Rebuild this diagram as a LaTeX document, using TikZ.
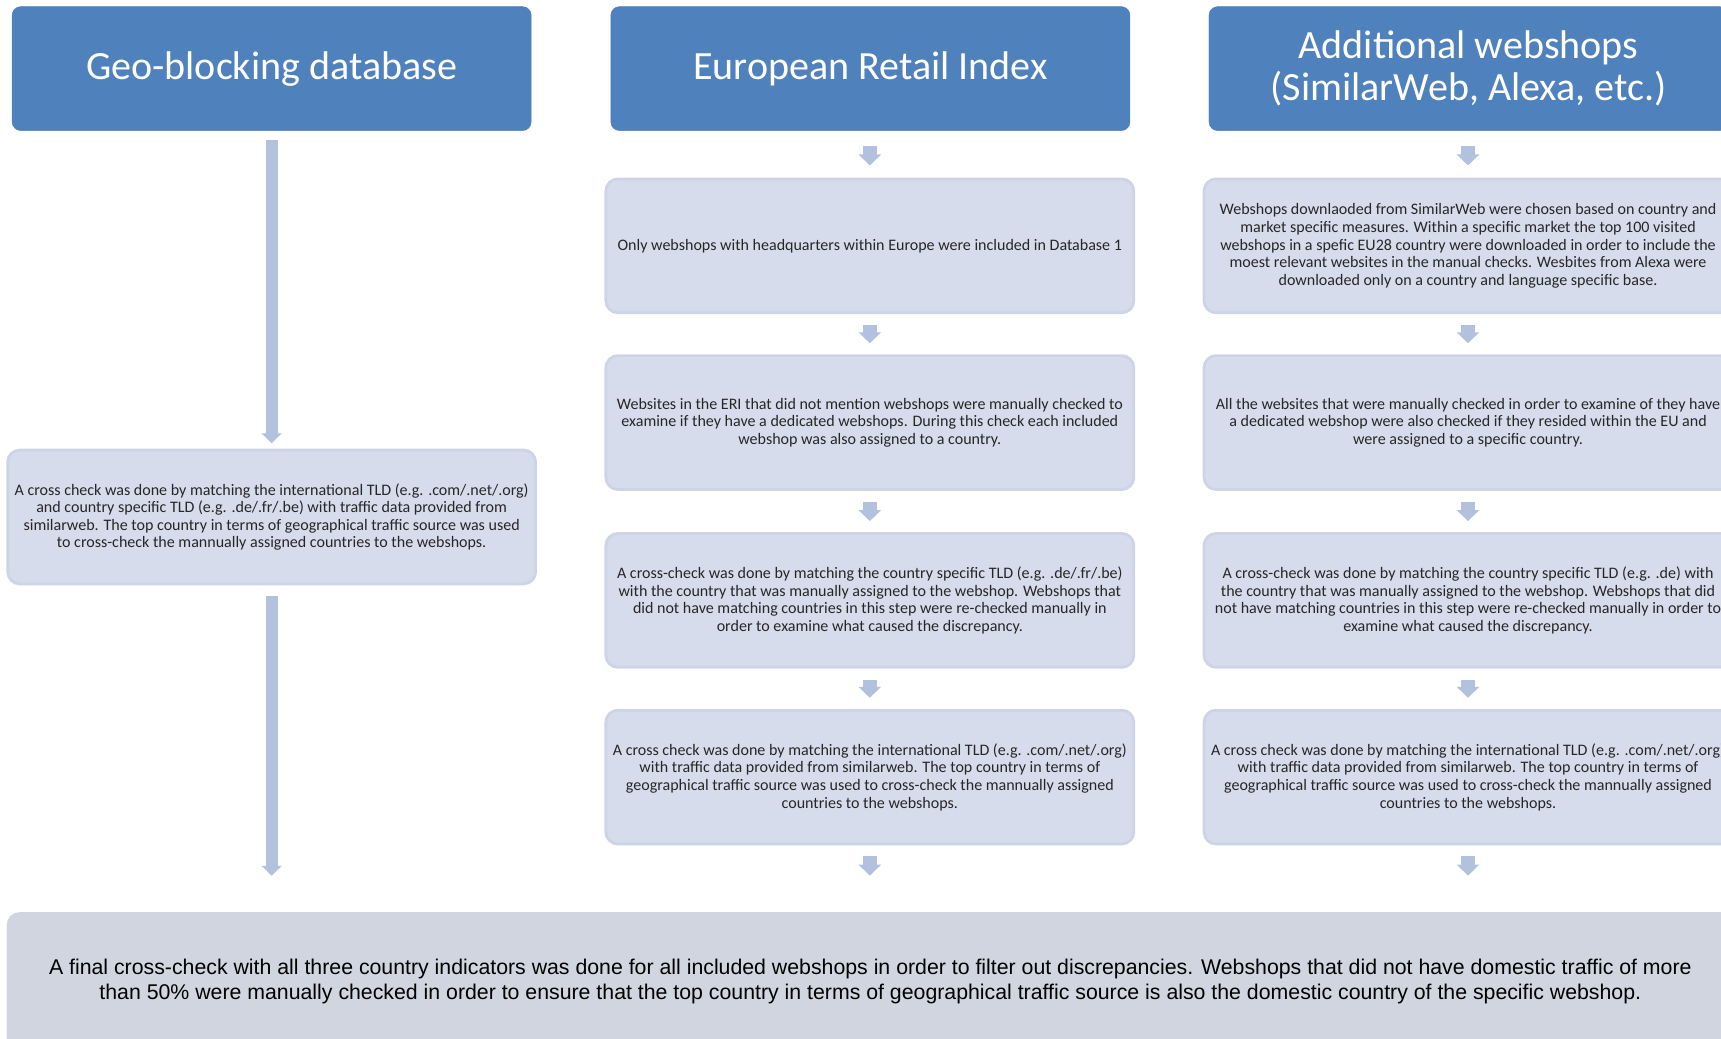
\documentclass[tikz,border=0pt]{standalone}
\usepackage{fontspec}
\setmainfont{Carlito}
\newfontfamily\arialf{Liberation Sans}
\usetikzlibrary{arrows.meta}
\definecolor{headblue}{HTML}{4F81BD}
\definecolor{stepfill}{HTML}{D6DCEB}
\definecolor{stepline}{HTML}{CCD4E6}
\definecolor{arrowc}{HTML}{B2C1DE}
\definecolor{finalfill}{HTML}{D1D5E0}
\begin{document}
\begin{tikzpicture}[x=1pt,y=-1pt,
  header/.style={rectangle, rounded corners=8pt, fill=headblue, draw=headblue,
    minimum width=473pt, minimum height=113pt, inner sep=0pt, align=center,
    text=white, font=\fontsize{36.5}{38}\selectfont},
  stepbox/.style={rectangle, rounded corners=11pt, fill=stepfill, draw=stepline,
    line width=2.5pt, minimum width=481pt, minimum height=122pt, inner sep=0pt,
    align=center, text=black!85, font=\fontsize{14.6}{16}\selectfont},
  finalbox/.style={rectangle, rounded corners=12pt, fill=finalfill, draw=none,
    minimum width=1574pt, minimum height=127pt, inner sep=0pt, align=center,
    text=black, font=\arialf\fontsize{19.4}{23}\selectfont},
  flow/.style={draw=arrowc, line width=13pt, -{Triangle[width=20pt,length=10pt]}},
  longflow/.style={draw=arrowc, line width=11pt, -{Triangle[width=18pt,length=9pt]}}]
\useasboundingbox (0,0) rectangle (1568,946);
\clip (0,0) rectangle (1568,946);

% column headers
\node[header] (h1) at (247.5,62.5) {Geo-blocking database};
\node[header] (h2) at (793,62.5) {European Retail Index};
\node[header] (h3) at (1338,62.5) {Additional webshops\\(SimilarWeb, Alexa, etc.)};

% geo-blocking database column
\node[stepbox] (g1) at (247.5,471) {A cross check was done by matching the international TLD (e.g. .com/.net/.org)\\
and country specific TLD (e.g. .de/.fr/.be) with traffic data provided from\\
similarweb. The top country in terms of geographical traffic source was used\\
to cross-check the mannually assigned countries to the webshops.};

% European Retail Index column
\node[stepbox] (e1) at (792.5,224) {Only webshops with headquarters within Europe were included in Database 1};
\node[stepbox] (e2) at (792.5,385) {Websites in the ERI that did not mention webshops were manually checked to\\
examine if they have a dedicated webshops. During this check each included\\
webshop was also assigned to a country.};
\node[stepbox] (e3) at (792.5,547) {A cross-check was done by matching the country specific TLD (e.g. .de/.fr/.be)\\
with the country that was manually assigned to the webshop. Webshops that\\
did not have matching countries in this step were re-checked manually in\\
order to examine what caused the discrepancy.};
\node[stepbox] (e4) at (792.5,708) {A cross check was done by matching the international TLD (e.g. .com/.net/.org)\\
with traffic data provided from similarweb. The top country in terms of\\
geographical traffic source was used to cross-check the mannually assigned\\
countries to the webshops.};

% additional webshops column
\node[stepbox] (a1) at (1337.5,224) {Webshops downlaoded from SimilarWeb were chosen based on country and\\
market specific measures. Within a specific market the top 100 visited\\
webshops in a spefic EU28 country were downloaded in order to include the\\
moest relevant websites in the manual checks. Wesbites from Alexa were\\
downloaded only on a country and language specific base.};
\node[stepbox] (a2) at (1337.5,385) {All the websites that were manually checked in order to examine of they have\\
a dedicated webshop were also checked if they resided within the EU and\\
were assigned to a specific country.};
\node[stepbox] (a3) at (1337.5,547) {A cross-check was done by matching the country specific TLD (e.g. .de) with\\
the country that was manually assigned to the webshop. Webshops that did\\
not have matching countries in this step were re-checked manually in order to\\
examine what caused the discrepancy.};
\node[stepbox] (a4) at (1337.5,708) {A cross check was done by matching the international TLD (e.g. .com/.net/.org)\\
with traffic data provided from similarweb. The top country in terms of\\
geographical traffic source was used to cross-check the mannually assigned\\
countries to the webshops.};

% final step
\node[finalbox] (fin) at (793,894.5) {A final cross-check with all three country indicators was done for all included webshops in order to filter out discrepancies. Webshops that did not have domestic traffic of more\\
than 50\% were manually checked in order to ensure that the top country in terms of geographical traffic source is also the domestic country of the specific webshop.};

% connectors
\draw[longflow, shorten <=8pt, shorten >=5pt] (h1.south) -- (g1.north);
\draw[longflow, shorten <=10pt, shorten >=33pt] (g1.south) -- (g1.south |- fin.north);

\foreach \c in {e,a}{
  \draw[flow, shorten <=14pt, shorten >=11pt] (\c1.north |- h2.south) -- (\c1.north);
  \draw[flow, shorten <=10pt, shorten >=10pt] (\c1.south) -- (\c2.north);
  \draw[flow, shorten <=10pt, shorten >=10pt] (\c2.south) -- (\c3.north);
  \draw[flow, shorten <=10pt, shorten >=10pt] (\c3.south) -- (\c4.north);
  \draw[flow, shorten <=10pt, shorten >=33pt] (\c4.south) -- (\c4.south |- fin.north);
}
\end{tikzpicture}
\end{document}
